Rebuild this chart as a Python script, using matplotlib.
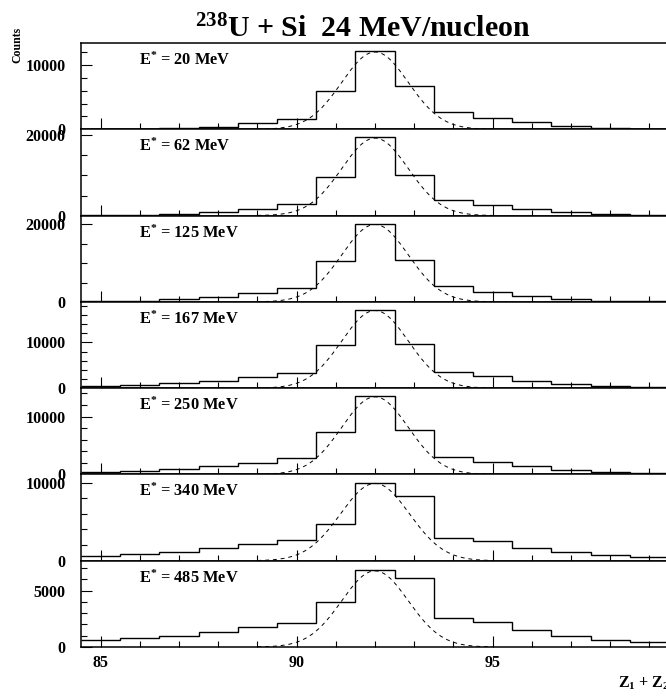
import numpy as np
import matplotlib
matplotlib.use("Agg")
import matplotlib.pyplot as plt
from matplotlib.ticker import MultipleLocator

plt.rcParams['font.family'] = ['Liberation Serif', 'DejaVu Serif']
plt.rcParams['font.weight'] = 'bold'
plt.rcParams['mathtext.fontset'] = 'custom'
plt.rcParams['mathtext.rm'] = 'Liberation Serif:bold'
plt.rcParams['mathtext.it'] = 'Liberation Serif:bold'
plt.rcParams['mathtext.bf'] = 'Liberation Serif:bold'

# Z1 + Z2 bins (centres), one count per bin
z_bins = np.arange(85, 100)
energies = [20, 62, 125, 167, 250, 340, 485]

counts_20 = [50, 60, 150, 400, 940, 1670, 5990, 12080, 6770, 2660, 1720, 1150, 470, 160, 50]
counts_62 = [80, 170, 420, 920, 1600, 2940, 9660, 19500, 10170, 3950, 2600, 1680, 840, 340, 170]
counts_125 = [170, 350, 700, 1210, 2160, 3460, 10560, 20090, 10820, 3980, 2600, 1640, 780, 350, 170]
counts_167 = [440, 660, 1030, 1540, 2430, 3380, 9410, 17130, 9560, 3600, 2570, 1620, 880, 510, 290]
counts_250 = [350, 580, 880, 1400, 1990, 2810, 7250, 13510, 7660, 2980, 2160, 1400, 760, 410, 175]
counts_340 = [555, 850, 1110, 1620, 2090, 2690, 4700, 9960, 8290, 2900, 2480, 1620, 1070, 680, 430]
counts_485 = [590, 800, 950, 1330, 1780, 2160, 3990, 6830, 6150, 2600, 2220, 1540, 1000, 590, 410]
all_counts = [counts_20, counts_62, counts_125, counts_167, counts_250, counts_340, counts_485]

# gaussian fit parameters (amplitude, mean, sigma), drawn over 89..95
fit_amp = [12000, 19300, 20000, 17000, 13400, 9900, 6750]
fit_mean = [92.0, 92.0, 92.0, 92.0, 92.0, 92.0, 92.0]
fit_sigma = [0.85, 0.85, 0.85, 0.85, 0.85, 0.88, 0.85]
fit_range = (89.0, 95.0)

# axis settings per panel
y_top = [13400, 21500, 22300, 18900, 14900, 11050, 7650]
y_major = [10000, 20000, 20000, 10000, 10000, 10000, 5000]
y_minor = [2000, 5000, 5000, 2000, 2000, 2000, 1000]

W, H = 666, 698
fig = plt.figure(figsize=(W / 100, H / 100), dpi=100)

left = 81 / W
width = 588 / W
top = 1 - 43 / H
bottom = 1 - 647 / H
ph = (top - bottom) / 7

edges = np.append(z_bins - 0.5, z_bins[-1] + 0.5)
xf = np.linspace(fit_range[0], fit_range[1], 300)

for i in range(7):
    ax = fig.add_axes([left, top - (i + 1) * ph, width, ph])
    ax.stairs(all_counts[i], edges, color='black', lw=1.0, baseline=None)
    yf = fit_amp[i] * np.exp(-0.5 * ((xf - fit_mean[i]) / fit_sigma[i]) ** 2)
    ax.plot(xf, yf, color='black', lw=0.7, dashes=(4, 4))

    ax.set_xlim(84.5, 99.5)
    ax.set_ylim(0, y_top[i])
    ax.xaxis.set_major_locator(MultipleLocator(5))
    ax.xaxis.set_minor_locator(MultipleLocator(1))
    ax.yaxis.set_major_locator(MultipleLocator(y_major[i]))
    ax.yaxis.set_minor_locator(MultipleLocator(y_minor[i]))
    ax.tick_params(which='both', direction='in', top=False, right=False, width=0.8)
    ax.tick_params(which='major', length=8)
    ax.tick_params(which='minor', length=4.3)
    ax.tick_params(axis='y', labelsize=11.5, pad=11)
    ax.tick_params(axis='x', labelsize=11.5, pad=6)
    for s in ax.spines.values():
        s.set_linewidth(1.1)
    if i < 6:
        ax.tick_params(axis='x', labelbottom=False)
    ax.text(0.0986, 0.745, r'E$^{*}$ = %d MeV' % energies[i], transform=ax.transAxes,
            fontsize=11.8, fontweight='bold', va='baseline', ha='left')

fig.text(363 / W, 1 - 37 / H, r'$^{238}$U + Si  24 MeV/nucleon', fontsize=21.5,
         fontweight='bold', ha='center', va='baseline')
fig.text(17 / W, 1 - 45 / H, 'Counts', rotation=90, fontsize=8.5, fontweight='bold',
         ha='center', va='center')
fig.text(618 / W, 1 - 688 / H, r'Z$_1$ + Z$_2$', fontsize=11.5, fontweight='bold',
         ha='left', va='baseline')

fig.savefig('out.png', dpi=100)
